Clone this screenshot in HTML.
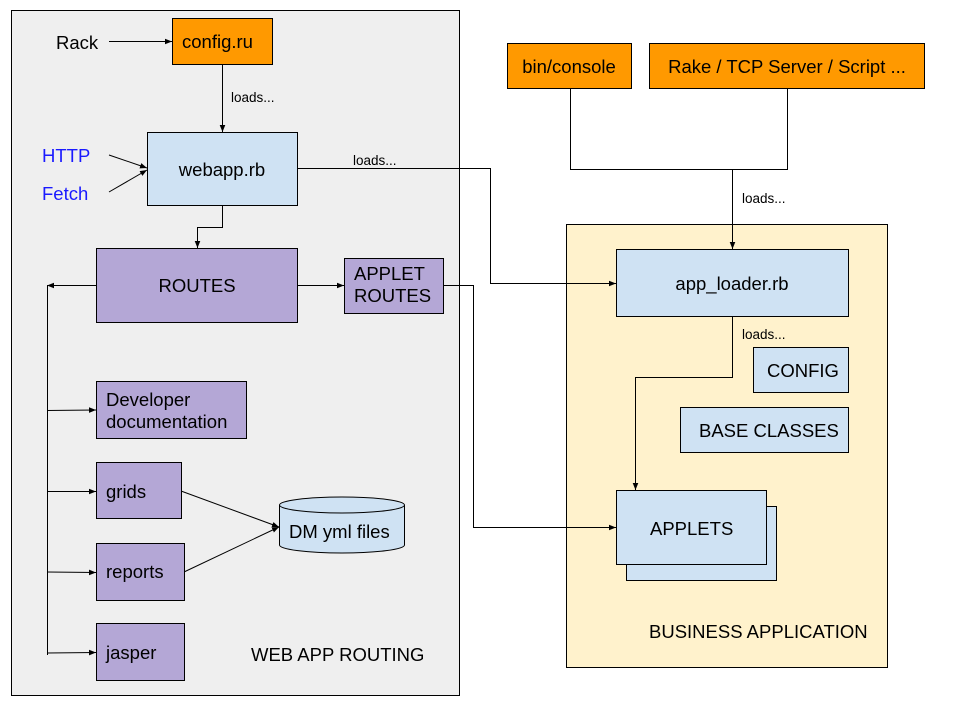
<!DOCTYPE html>
<html><head><meta charset="utf-8"><style>
html,body{margin:0;padding:0;background:#fff;}
svg{display:block;}
text{font-family:"Liberation Sans",Arial,sans-serif;fill:#000;}
</style></head><body>
<svg width="960" height="720" viewBox="0 0 960 720" xmlns="http://www.w3.org/2000/svg">
<defs>
<marker id="a" viewBox="0 0 10 10" refX="10" refY="5" markerWidth="7" markerHeight="7" orient="auto" markerUnits="userSpaceOnUse"><path d="M0,1 L10,5 L0,9 z" fill="#000"/></marker>
</defs>
<rect x="0" y="0" width="960" height="720" fill="#fff"/>
<rect x="11.5" y="10.5" width="448" height="685" fill="#efefef" stroke="#000"/>
<rect x="566.5" y="224.5" width="321" height="443" fill="#fff2cc" stroke="#000"/>

<g fill="none" stroke="#000" stroke-width="1">
<line x1="109" y1="41.5" x2="172" y2="41.5" marker-end="url(#a)"/>
<line x1="222.5" y1="64" x2="222.5" y2="132" marker-end="url(#a)"/>
<line x1="109" y1="155" x2="147" y2="168" marker-end="url(#a)"/>
<line x1="109" y1="192" x2="147" y2="170" marker-end="url(#a)"/>
<polyline points="297,168.5 490.5,168.5 490.5,283.5 616,283.5" marker-end="url(#a)"/>
<polyline points="222.5,205 222.5,227.5 197.5,227.5 197.5,248" marker-end="url(#a)"/>
<line x1="297" y1="285.5" x2="344" y2="285.5" marker-end="url(#a)"/>
<polyline points="443,285.5 473.5,285.5 473.5,527.5 616,527.5" marker-end="url(#a)"/>
<line x1="96" y1="285.5" x2="47" y2="285.5" marker-end="url(#a)"/>
<line x1="47.5" y1="285" x2="47.5" y2="655"/>
<line x1="47" y1="410.5" x2="96" y2="410" marker-end="url(#a)"/>
<line x1="47" y1="491.5" x2="96" y2="491.5" marker-end="url(#a)"/>
<line x1="47" y1="572" x2="96" y2="572.5" marker-end="url(#a)"/>
<line x1="47" y1="653" x2="96" y2="652.5" marker-end="url(#a)"/>
<line x1="181" y1="491" x2="279" y2="527" marker-end="url(#a)"/>
<line x1="184" y1="572" x2="279" y2="527" marker-end="url(#a)"/>
<polyline points="570.5,88 570.5,169.5 787.5,169.5 787.5,88"/>
<line x1="732.5" y1="169" x2="732.5" y2="249" marker-end="url(#a)"/>
<polyline points="732.5,316 732.5,377.5 635.5,377.5 635.5,490" marker-end="url(#a)"/>
</g>

<g stroke="#000" stroke-width="1">
<rect x="172.5" y="18.5" width="100" height="46" fill="#ff9900"/>
<rect x="147.5" y="132.5" width="150" height="73" fill="#cfe2f3"/>
<rect x="96.5" y="248.5" width="201" height="74" fill="#b4a7d6"/>
<rect x="344.5" y="258.5" width="99" height="55" fill="#b4a7d6"/>
<rect x="96.5" y="381.5" width="150" height="57" fill="#b4a7d6"/>
<rect x="96.5" y="462.5" width="85" height="56" fill="#b4a7d6"/>
<rect x="96.5" y="543.5" width="88" height="57" fill="#b4a7d6"/>
<rect x="96.5" y="623.5" width="88" height="57" fill="#b4a7d6"/>
<path d="M279.5,505 L279.5,545 A62.5,8 0 0 0 404.5,545 L404.5,505" fill="#cfe2f3"/>
<ellipse cx="342" cy="505" rx="62.5" ry="8" fill="#cfe2f3"/>
<rect x="507.5" y="43.5" width="124" height="45" fill="#ff9900"/>
<rect x="649.5" y="43.5" width="275" height="45" fill="#ff9900"/>
<rect x="616.5" y="249.5" width="232" height="67" fill="#cfe2f3"/>
<rect x="753.5" y="347.5" width="95" height="45" fill="#cfe2f3"/>
<rect x="680.5" y="407.5" width="168" height="45" fill="#cfe2f3"/>
<rect x="626.5" y="506.5" width="150" height="74" fill="#cfe2f3"/>
<rect x="616.5" y="490.5" width="150" height="74" fill="#cfe2f3"/>
</g>

<g font-size="18.5">
<text x="56" y="49">Rack</text>
<text x="182" y="48">config.ru</text>
<text x="42" y="162" style="fill:#1a1aff">HTTP</text>
<text x="42" y="200" style="fill:#1a1aff">Fetch</text>
<text x="222" y="176" text-anchor="middle">webapp.rb</text>
<text x="197" y="292" text-anchor="middle">ROUTES</text>
<text x="354" y="280">APPLET</text>
<text x="354" y="302">ROUTES</text>
<text x="106" y="406">Developer</text>
<text x="106" y="428">documentation</text>
<text x="106" y="498">grids</text>
<text x="106" y="578">reports</text>
<text x="106" y="659">jasper</text>
<text x="289" y="538">DM yml files</text>
<text x="251" y="661">WEB APP ROUTING</text>
<text x="569" y="73" text-anchor="middle">bin/console</text>
<text x="787" y="73" text-anchor="middle">Rake / TCP Server / Script ...</text>
<text x="732" y="290" text-anchor="middle">app_loader.rb</text>
<text x="767" y="377">CONFIG</text>
<text x="699" y="437">BASE CLASSES</text>
<text x="650" y="535">APPLETS</text>
<text x="649" y="638">BUSINESS APPLICATION</text>
</g>
<g font-size="13.5">
<text x="231" y="102">loads...</text>
<text x="353" y="165">loads...</text>
<text x="742" y="203">loads...</text>
<text x="742" y="339">loads...</text>
</g>
</svg>
</body></html>
